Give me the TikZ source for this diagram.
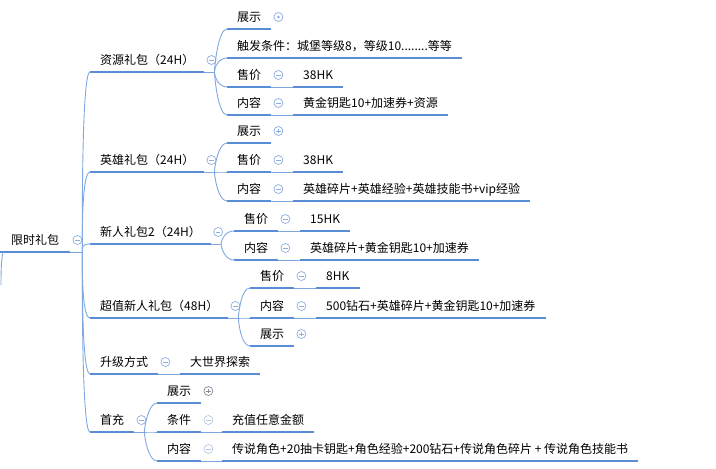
\documentclass[tikz,border=0pt]{standalone}
\usepackage{fontspec}
\setmainfont{Noto Sans CJK SC}
\usetikzlibrary{calc}

\definecolor{ulblue}{HTML}{5A8DD6}
\definecolor{linkblue}{HTML}{7FA8E1}
\definecolor{foldblue}{HTML}{8CAEE0}
\definecolor{foldpale}{HTML}{B9C7E2}
\definecolor{foldgrey}{HTML}{858A94}

\tikzset{
  topic/.style={anchor=south west, inner xsep=10pt, inner ysep=7.5pt,
    text height=9pt, text depth=0pt, font=\fontsize{12pt}{14pt}\selectfont,
    append after command={(\tikzlastnode.south west) edge[uline] (\tikzlastnode.south east)}},
  uline/.style={draw=ulblue, line width=2.6pt},
  link/.style={draw=linkblue, line width=0.9pt},
  twig/.style={out=#1, in=180, out distance=4pt, in distance=9pt},
  foldring/.style={circle, draw=#1, line width=0.7pt, minimum size=9pt, inner sep=0pt},
  foldminus/.style={foldring=#1, path picture={\draw[#1, line width=0.7pt]
      ([xshift=2.2pt]path picture bounding box.west) -- ([xshift=-2.2pt]path picture bounding box.east);}},
  foldminus/.default=foldblue,
  foldplus/.style={foldring=#1, path picture={\draw[#1, line width=0.7pt]
      ([xshift=2.2pt]path picture bounding box.west) -- ([xshift=-2.2pt]path picture bounding box.east)
      ([yshift=2.2pt]path picture bounding box.south) -- ([yshift=-2.2pt]path picture bounding box.north);}},
  foldplus/.default=foldblue,
  folddot/.style={foldring=foldblue, path picture={\fill[foldblue]
      (path picture bounding box.center) circle (1.4pt);}}
}

\begin{document}
\begin{tikzpicture}[x=1pt, y=1pt]
  \useasboundingbox (0,0) rectangle (716,-469);

  % root
  \node[topic, inner xsep=11pt] (root) at (0,-252) {限时礼包};
  \node[foldminus] (f-root) at ([shift={(7pt,12pt)}]root.south east) {};
  \coordinate (rootJ) at ([xshift=12pt]root.south east);
  \coordinate (away) at (1,-285);
  \draw[link] ([xshift=4pt]root.south west) to[out=180, in=90, out distance=3pt, in distance=8pt] (away);

  % packs
  \node[topic] (res) at (90,-72) {资源礼包（24H）};
  \node[topic] (hero) at (90,-172) {英雄礼包（24H）};
  \node[topic] (newb) at (90,-244) {新人礼包2（24H）};
  \node[topic] (deal) at (90,-318) {超值新人礼包（48H）};
  \node[topic] (upg) at (90,-374) {升级方式};
  \node[topic] (first) at (90,-432) {首充};
  \draw[link] (root.south east) -- (rootJ);
  \foreach \c/\a in {res/90, hero/90, newb/90, deal/-90, upg/-90, first/-90}
    \draw[link] (rootJ) to[twig=\a] (\c.south west);
  \foreach \p in {res, hero, newb, deal, upg, first}
    \node[foldminus] (f-\p) at ([shift={(7pt,12pt)}]\p.south east) {};

  % 资源礼包
  \node[topic] (r1) at (227,-29) {展示};
  \node[topic] (r2) at (227,-58) {触发条件：城堡等级8，等级10........等等};
  \node[topic] (r3) at (227,-87) {售价};
  \node[topic] (r4) at (227,-115) {内容};
  \node[topic] (r3v) at (293,-87) {38HK};
  \node[topic] (r4v) at (293,-115) {黄金钥匙10+加速券+资源};
  \coordinate (resJ) at ([xshift=10pt]res.south east);
  \draw[link] (res.south east) -- (resJ);
  \foreach \c/\a in {r1/90, r2/90, r3/-90, r4/-90}
    \draw[link] (resJ) to[twig=\a] (\c.south west);
  \node[folddot] (f-r1) at ([shift={(7pt,12pt)}]r1.south east) {};

  % 英雄礼包
  \node[topic] (h1) at (227,-143) {展示};
  \node[topic] (h2) at (227,-172) {售价};
  \node[topic] (h3) at (227,-201) {内容};
  \node[topic] (h2v) at (293,-172) {38HK};
  \node[topic] (h3v) at (293,-201) {英雄碎片+英雄经验+英雄技能书+vip经验};
  \coordinate (heroJ) at ([xshift=10pt]hero.south east);
  \draw[link] (hero.south east) -- (heroJ);
  \foreach \c/\a in {h1/90, h2/0, h3/-90}
    \draw[link] (heroJ) to[twig=\a] (\c.south west);
  \node[foldplus] (f-h1) at ([shift={(7pt,12pt)}]h1.south east) {};

  % 新人礼包2
  \node[topic] (n1) at (234,-231) {售价};
  \node[topic] (n2) at (234,-260) {内容};
  \node[topic] (n1v) at (300,-231) {15HK};
  \node[topic] (n2v) at (300,-260) {英雄碎片+黄金钥匙10+加速券};
  \coordinate (newbJ) at ([xshift=10pt]newb.south east);
  \draw[link] (newb.south east) -- (newbJ);
  \foreach \c/\a in {n1/90, n2/-90}
    \draw[link] (newbJ) to[twig=\a] (\c.south west);

  % 超值新人礼包
  \node[topic] (d1) at (250,-288) {售价};
  \node[topic] (d2) at (250,-318) {内容};
  \node[topic] (d3) at (250,-346) {展示};
  \node[topic] (d1v) at (316,-288) {8HK};
  \node[topic] (d2v) at (316,-318) {500钻石+英雄碎片+黄金钥匙10+加速券};
  \coordinate (dealJ) at ([xshift=10pt]deal.south east);
  \draw[link] (deal.south east) -- (dealJ);
  \foreach \c/\a in {d1/90, d2/0, d3/-90}
    \draw[link] (dealJ) to[twig=\a] (\c.south west);
  \node[foldplus] (f-d3) at ([shift={(7pt,12pt)}]d3.south east) {};

  % 升级方式
  \node[topic] (u1) at (180,-374) {大世界探索};
  \draw[link] (upg.south east) -- (u1.south west);

  % 首充
  \node[topic] (c1) at (157,-403) {展示};
  \node[topic] (c2) at (157,-432) {条件};
  \node[topic] (c3) at (157,-461) {内容};
  \node[topic] (c2v) at (222,-432) {充值任意金额};
  \node[topic] (c3v) at (222,-461) {传说角色+20抽卡钥匙+角色经验+200钻石+传说角色碎片 + 传说角色技能书};
  \coordinate (firstJ) at ([xshift=10pt]first.south east);
  \draw[link] (first.south east) -- (firstJ);
  \foreach \c/\a in {c1/90, c2/0, c3/-90}
    \draw[link] (firstJ) to[twig=\a] (\c.south west);
  \node[foldplus=foldgrey] (f-c1) at ([shift={(7pt,12pt)}]c1.south east) {};
  \foreach \n in {c2, c3}
    \node[foldminus=foldpale] (f-\n) at ([shift={(7pt,12pt)}]\n.south east) {};

  % price and content values
  \foreach \n in {r3, r4, h2, h3, n1, n2, d1, d2}
    \node[foldminus] (f-\n) at ([shift={(7pt,12pt)}]\n.south east) {};
  \foreach \a/\b in {r3/r3v, r4/r4v, h2/h2v, h3/h3v, n1/n1v, n2/n2v, d1/d1v, d2/d2v, c2/c2v, c3/c3v}
    \draw[link] (\a.south east) -- (\b.south west);
\end{tikzpicture}
\end{document}
